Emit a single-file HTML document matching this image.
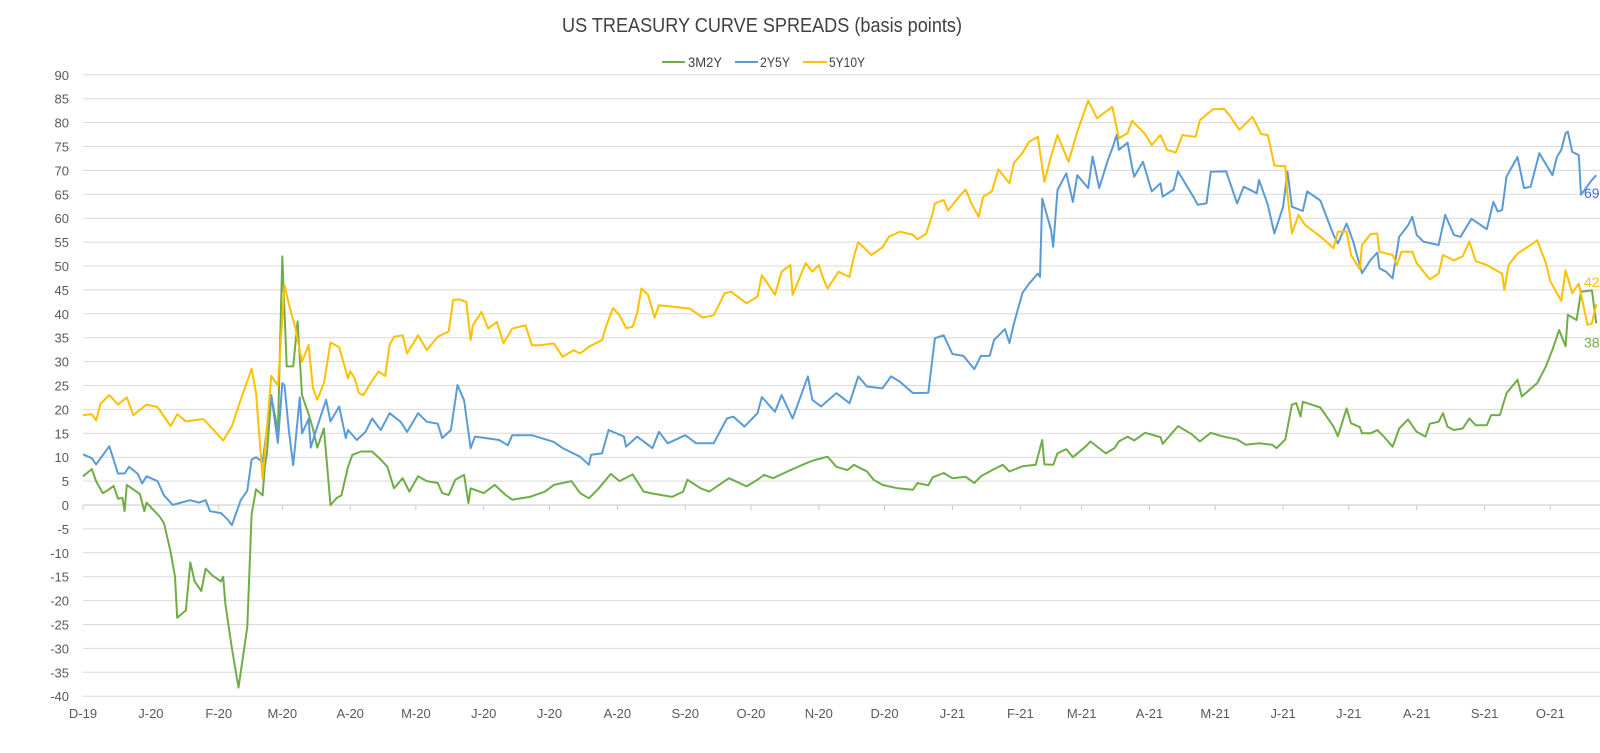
<!DOCTYPE html>
<html><head><meta charset="utf-8"><style>
html,body{margin:0;padding:0;background:#fff;}
svg{display:block;font-family:"Liberation Sans",sans-serif;}
</style></head><body>
<svg id="chart" width="1600" height="753" viewBox="0 0 1600 753" xmlns="http://www.w3.org/2000/svg">
<text x="762" y="32" text-anchor="middle" font-size="20" fill="#404040" textLength="400" lengthAdjust="spacingAndGlyphs">US TREASURY CURVE SPREADS (basis points)</text>
<g>
<g><line x1="662" y1="62" x2="685" y2="62" stroke="#70ad47" stroke-width="2"/><text x="688" y="67" font-size="14" fill="#404040" textLength="34" lengthAdjust="spacingAndGlyphs">3M2Y</text></g>
<g><line x1="735" y1="62" x2="758" y2="62" stroke="#5b9bd5" stroke-width="2"/><text x="760" y="67" font-size="14" fill="#404040" textLength="30" lengthAdjust="spacingAndGlyphs">2Y5Y</text></g>
<g><line x1="803" y1="62" x2="827" y2="62" stroke="#ffc000" stroke-width="2"/><text x="829" y="67" font-size="14" fill="#404040" textLength="36" lengthAdjust="spacingAndGlyphs">5Y10Y</text></g>
</g>
<g id="grid"></g>
<g id="yaxis"></g>
<g id="xaxis"></g>
<g id="series"></g>
<g id="endlabels"></g>
</svg>
<script>
const yTicks = [90,85,80,75,70,65,60,55,50,45,40,35,30,25,20,15,10,5,0,-5,-10,-15,-20,-25,-30,-35,-40];
const monthLabels = ["D-19","J-20","F-20","M-20","A-20","M-20","J-20","J-20","A-20","S-20","O-20","N-20","D-20","J-21","F-21","M-21","A-21","M-21","J-21","J-21","A-21","S-21","O-21"];
const seriesNames = ["3M2Y","2Y5Y","5Y10Y"];
// days since 2019-12-01
const days3M2Y = [0,4,6,9,11,14,16,18,19,20,26,28,29,35,37,40,42,43,47,49,51,54,56,59,63,64,65,68,71,75,77,79,82,83,84,86,89,91,93,96,98,100,103,105,107,110,113,116,118,121,123,127,132,136,139,142,146,149,153,157,162,164,167,170,174,176,177,183,188,193,196,204,211,215,223,227,231,235,241,245,251,256,260,269,274,276,282,286,295,303,308,311,315,323,330,334,340,344,349,352,358,361,365,372,379,381,386,388,393,397,403,407,410,416,420,423,429,435,438,439,443,445,449,452,458,460,467,471,473,477,480,485,492,493,500,506,510,515,520,527,531,537,543,545,549,552,554,556,557,565,571,573,577,579,583,584,588,591,594,598,601,605,609,613,615,619,621,623,626,630,633,636,641,643,647,650,655,657,664,668,671,674,677,678,682,684,689,691];
const vals3M2Y = [6,7.5,5,2.5,3,4,1.3,1.5,-1.3,4.2,2.3,-1.3,0.5,-2.4,-3.8,-9.8,-15,-23.6,-22,-12,-16,-18,-13.3,-14.7,-16,-15,-20.6,-30,-38.2,-25.5,-2,3.3,2,8,11,22.7,15.5,52,29,29,38.4,23,19,16,12,16,0,1.5,2,8,10.5,11.2,11.2,9.5,8,3.5,5.6,2.8,6,5,4.6,2.5,2.1,5.3,6.3,0.4,3.5,2.5,4.2,2.1,1.1,1.7,2.8,4.2,5,2.5,1.4,3.2,6.5,5,6.4,2.8,2.4,1.7,2.8,5.3,3.5,2.8,5.6,3.9,5.3,6.3,5.6,7.3,8.7,9.4,10.1,8,7.3,8.4,7,5.3,4.2,3.5,3.2,4.6,4.1,5.8,6.7,5.6,5.9,4.6,6,7.5,8.4,7,8.1,8.4,13.6,8.5,8.4,10.8,11.7,10,12.3,13.3,10.8,11.9,13.3,14.3,13.5,15.1,14.2,12.8,16.5,14.9,13.3,15.1,14.4,13.7,12.6,12.9,12.6,11.9,13.7,21,21.3,18.5,21.6,20.4,16.4,14.4,20.2,17.1,16.3,15,15,15.7,14.3,12.2,16,17.9,15.3,14.3,17,17.4,19.2,16.4,15.7,16,18.1,16.7,16.7,18.8,18.8,23.4,26.2,22.7,25.5,29,32.5,36.6,33.2,39.8,38.7,44.6,44.9,38];
const days2Y5Y = [0,4,6,12,16,19,21,25,27,29,34,37,41,43,49,53,56,58,63,66,68,72,75,77,79,82,86,89,91,92,94,96,99,100,103,104,106,111,113,117,120,121,125,129,132,136,140,145,148,153,157,162,164,168,171,174,177,179,184,190,194,196,205,215,219,227,231,232,237,240,247,248,253,260,263,267,275,280,288,294,297,302,308,310,316,319,324,331,333,337,344,350,354,358,365,369,373,379,386,389,393,397,402,407,410,414,416,421,423,425,429,432,436,437,438,442,443,445,449,452,454,459,461,464,468,470,472,473,477,479,480,484,488,492,493,498,500,507,509,513,515,522,527,530,536,537,541,544,548,550,552,557,559,565,571,573,577,580,584,588,591,592,595,598,601,605,607,609,612,619,622,626,629,634,641,644,646,648,650,655,658,661,665,671,673,675,677,678,680,683,684,689,691];
const vals2Y5Y = [10.6,9.8,8.5,12.3,6.6,6.6,8,6.5,4.5,6,5,2,0,0.3,1,0.5,1,-1.3,-1.7,-3,-4.2,1,3,9.5,10,9,23,13,25.5,25,15.5,8.3,22.5,15,18,12,15,22,17.5,20.6,14,15.7,13.6,15.3,18.1,15.7,19.2,17.4,15.3,19.2,17.4,17,14,15.7,25.1,21.9,11.9,14.3,14,13.6,12.5,14.6,14.6,13.2,11.9,10.1,8.4,10.5,10.8,15.7,14.3,12.2,14.3,11.9,15.3,12.9,14.6,12.9,12.9,18.1,18.5,16.4,19.2,22.6,19.5,23,18.1,26.9,22,20.6,23.4,21.3,26.9,24.8,24.4,26.9,25.8,23.4,23.5,34.9,35.5,31.6,31.2,28.4,31.2,31.2,34.5,36.8,33.9,37.9,44.4,46.3,48.4,47.7,64.1,57.6,54,65.9,69.4,63.4,69,66.3,72.9,66.3,72.2,74.6,77.4,74.3,75.8,70.8,68.7,71.8,65.6,67.3,64.5,66,69.8,64.5,62.8,63.1,69.7,69.8,63.1,66.6,65.2,68,62.8,56.8,62.4,69.7,62.4,61.5,65.6,63.7,56.5,54.7,58.9,55.1,48.5,51.3,52.8,49.5,48.8,47.4,56.1,58.5,60.3,56.5,55.1,54.4,60.7,56.5,56.1,59.9,57.7,63.4,61.4,61.7,68.7,72.8,66.3,66.6,73.6,69,72.8,74.3,77.8,78.1,73.9,73.2,64.9,68,69];
const days5Y10Y = [0,4,6,8,12,16,20,23,29,34,40,43,47,55,64,68,72,77,79,82,86,89,92,94,97,100,103,105,107,110,113,117,121,122,124,126,128,132,135,138,140,142,146,148,153,157,162,167,169,172,175,177,178,182,185,189,192,196,202,205,209,215,219,224,227,231,237,239,242,245,248,251,253,255,258,261,263,269,277,283,288,293,296,303,308,310,316,319,323,324,330,333,336,338,340,345,350,352,354,360,365,368,373,379,381,385,388,389,393,395,400,403,406,409,411,415,418,423,425,429,432,436,439,442,445,450,454,459,463,470,473,477,479,485,488,492,495,499,502,508,510,516,521,524,528,534,538,541,544,549,550,552,555,558,565,571,573,577,579,583,584,588,591,592,598,600,602,607,609,615,619,621,626,630,633,636,641,648,649,651,655,662,664,668,670,675,677,680,683,687,689,691];
const vals5Y10Y = [18.8,19,17.7,21.2,23,21,22.5,18.8,21,20.5,16.5,19,17.5,18,13.5,16.5,22,28.5,23.5,5.5,27,25,46,42,37,30,33.5,24.5,22,25.5,34,33,26.5,28,26.5,23.4,23,26,27.9,27,33.5,35.2,35.5,31.7,35.5,32.4,35.2,36.3,42.9,43,42.5,34.5,37.6,40.4,36.9,38.3,33.8,36.9,37.6,33.4,33.4,33.8,31,32.4,31.7,33.1,34.5,37.6,41.2,39.7,37,37.3,40.1,45.3,44,39.2,41.8,41.5,41.1,39.2,39.7,44.3,44.6,42.2,43.6,48.1,44,48.8,50.2,44,50.6,48.8,50.2,47.4,45.3,48.8,47.7,52,55,52.3,53.9,56.1,57.2,56.5,55.6,56.7,61,63.1,63.8,61.6,64.5,66,62.8,60.3,64.5,65.6,70.2,67.3,71.5,73.7,76,77,67.6,72.9,77.4,71.8,78.1,84.6,80.9,83.3,76.7,77.8,80.4,77.6,75.3,77.4,74.3,73.7,77.4,77,80.5,82.8,82.9,81.2,78.5,81.2,77.6,77.4,71,70.9,64.9,56.8,60.7,58.6,56.2,53.7,57.2,57.2,52.3,49.3,54.4,56.7,56.8,53,52.3,50.2,53,53,50.6,47.2,48.4,52.3,51.2,52,55.1,51,50.2,48.4,45,50.2,52.6,54.7,55.4,50.6,46.8,42.7,49.1,44.3,46.3,37.7,38,42];
const endLabels = ["38","69","42"];

const NS = "http://www.w3.org/2000/svg";
const X0 = 83, PXPERDAY = 2.19, Y0 = 505, PXPERUNIT = 4.78;
function xScale(d){ return X0 + d * PXPERDAY; }
function yScale(v){ return Y0 - v * PXPERUNIT; }
function mk(tag, attrs, parent){ const e = document.createElementNS(NS, tag); for (const k in attrs) e.setAttribute(k, attrs[k]); parent.appendChild(e); return e; }

const grid = document.getElementById('grid');
const yaxis = document.getElementById('yaxis');
yTicks.forEach(v => {
  const l = mk('line', {x1: 83, x2: 1600, y1: yScale(v), y2: yScale(v), stroke: v === 0 ? '#c8c8c8' : '#d9d9d9', 'stroke-width': 1}, grid);
  
  
  const t = mk('text', {x: 69, y: yScale(v) + 5, 'text-anchor': 'end', 'font-size': 13, fill: '#595959'}, yaxis);
  
  
  t.textContent = v;
});

const xaxis = document.getElementById('xaxis');
const base = Date.UTC(2019, 11, 1);
monthLabels.forEach((lab, i) => {
  const d = Math.round((Date.UTC(2019, 11 + i, 1) - base) / 86400000);
  const x = xScale(d);
  const tk = mk('line', {x1: x, x2: x, y1: Y0, y2: Y0 + 5, stroke: '#c8c8c8', 'stroke-width': 1}, xaxis);
  
  
  const t = mk('text', {x: x, y: 718, 'text-anchor': 'middle', 'font-size': 13, fill: '#595959'}, xaxis);
  
  
  t.textContent = lab;
});

const seriesDays = [days3M2Y, days2Y5Y, days5Y10Y];
const seriesVals = [vals3M2Y, vals2Y5Y, vals5Y10Y];
const colors = ['#70ad47', '#5b9bd5', '#ffc000'];
const labelColors = ['#70ad47', '#4472c4', '#ffc000'];
const labelOffsets = [24, 23, -17];
const sg = document.getElementById('series');
const eg = document.getElementById('endlabels');
seriesNames.forEach((name, s) => {
  const pts = seriesDays[s].map((d, i) => xScale(d).toFixed(1) + ',' + yScale(seriesVals[s][i]).toFixed(1)).join(' ');
  const pl = mk('polyline', {points: pts, fill: 'none', stroke: colors[s], 'stroke-width': 2, 'stroke-linejoin': 'round'}, sg);
  
  
  const n = seriesDays[s].length - 1;
  const lastV = seriesVals[s][n];
  const t = mk('text', {x: 1584, y: yScale(lastV) + labelOffsets[s], 'font-size': 14, fill: labelColors[s]}, eg);
  
  
  t.textContent = endLabels[s];
});
</script>
</body></html>
